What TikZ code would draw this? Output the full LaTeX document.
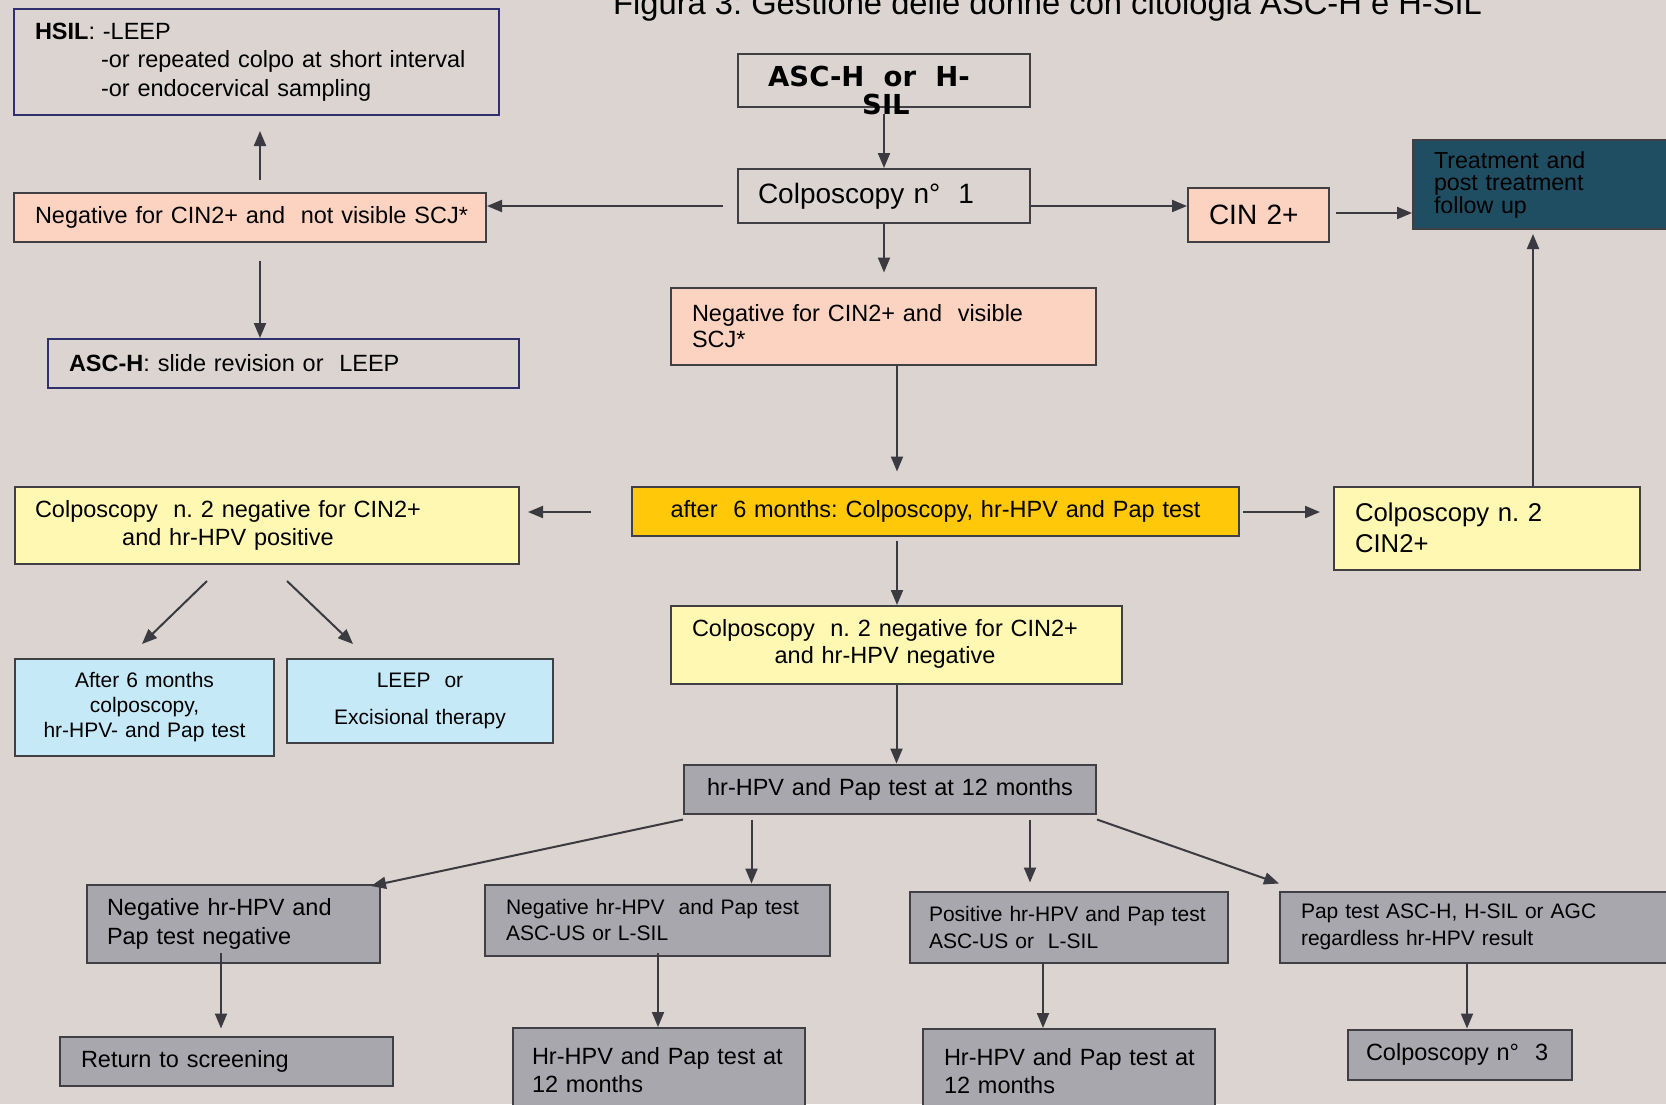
\documentclass[tikz,border=0pt]{standalone}
\usepackage{fontspec}
\setmainfont{Liberation Sans}
\newfontfamily\djv{DejaVu Sans}
\usetikzlibrary{arrows.meta}
\definecolor{bgc}{RGB}{219,212,209}
\definecolor{salm}{RGB}{252,211,192}
\definecolor{lyel}{RGB}{255,248,178}
\definecolor{goldc}{RGB}{255,201,10}
\definecolor{lblu}{RGB}{198,233,248}
\definecolor{gbox}{RGB}{168,167,174}
\definecolor{tealc}{RGB}{31,78,98}
\definecolor{bordc}{RGB}{64,64,68}
\definecolor{navy}{RGB}{48,48,110}
\definecolor{arrc}{RGB}{58,58,64}
\newcommand\fm{\fontsize{23.5}{28}\selectfont}
\newcommand\fs{\fontsize{21}{26}\selectfont}
\newcommand\fl{\fontsize{28}{32}\selectfont}
\newcommand\ftreat{\fontsize{23.2}{22.5}\selectfont}
\newcommand\mln[1]{\mbox{#1}}
\begin{document}
\frenchspacing
\begin{tikzpicture}[x=1pt,y=-1pt,
  bx/.style={draw=bordc, line width=2pt, rectangle, inner ysep=0pt, align=left, text=black},
  arr/.style={draw=arrc, line width=2pt, -{Triangle[length=15pt,width=12pt]}}]
\fill[bgc] (0,0) rectangle (1666,1104);
\useasboundingbox (0,0) rectangle (1666,1104);

\node[anchor=base west, inner sep=0pt, font=\fontsize{32.7}{38}\selectfont] (title) at (613,14) {Figura 3: Gestione delle donne con citologia ASC-H e H-SIL};

% left top
\node[bx, draw=navy, minimum width=485pt, minimum height=106pt, text width=443pt, inner xsep=21pt, font=\fontsize{23.5}{28.5}\selectfont] (hsil) at (256.5,62)
  {\mln{\textbf{HSIL}: -LEEP}\\\mln{\hspace*{66pt}-or repeated colpo at short interval}\\\mln{\hspace*{66pt}-or endocervical sampling}};
\node[bx, fill=salm, minimum width=472pt, minimum height=49pt, text width=430pt, inner xsep=21pt, font=\fm] (neg1) at (250,217.5)
  {\mln{Negative for CIN2+ and\ \ not visible SCJ*}};
\node[bx, draw=navy, minimum width=471pt, minimum height=49pt, text width=429pt, inner xsep=21pt, font=\fm] (asch) at (283.5,363.5)
  {\mln{\textbf{ASC-H}: slide revision or\ \ LEEP}};

% centre top
\node[bx, minimum width=292pt, minimum height=53pt] (start) at (884,80.5) {};
\node[anchor=base west, inner sep=0pt, font=\djv\bfseries\fontsize{27.5}{28}\selectfont] (startA) at (768,86) {ASC-H\ \ or\ \ H-};
\node[anchor=base west, inner sep=0pt, font=\djv\bfseries\fontsize{27.5}{28}\selectfont] (startB) at (862,114) {SIL};
\node[bx, minimum width=292pt, minimum height=54pt, text width=252pt, inner xsep=20pt, font=\fl] (colpo1) at (884,196)
  {\mln{Colposcopy n°\hspace{18pt}1}};
\node[bx, fill=salm, minimum width=141pt, minimum height=54pt, text width=99pt, inner xsep=21pt, font=\fl] (cin) at (1258.5,215)
  {\mln{CIN 2+}};
\node[bx, fill=tealc, minimum width=277pt, minimum height=89pt, text width=235pt, inner xsep=21pt, font=\ftreat] (treat) at (1551.5,184.5)
  {\lineskiplimit=-100pt\relax \mln{Treatment and}\\\mln{post treatment}\\\mln{follow up}};
\node[bx, fill=salm, minimum width=425pt, minimum height=77pt, text width=383pt, inner xsep=21pt, font=\fontsize{23.5}{26}\selectfont] (negvis) at (883.5,326)
  {\mln{Negative for CIN2+ and\ \ visible}\\\mln{SCJ*}};

% middle row
\node[bx, fill=goldc, minimum width=607pt, minimum height=49pt, text width=565pt, inner xsep=21pt, align=center, font=\fm] (gold) at (935.5,511)
  {\mln{after\ \ 6 months: Colposcopy, hr-HPV and Pap test}};
\node[bx, fill=lyel, minimum width=504pt, minimum height=77pt, text width=464pt, inner xsep=20pt, font=\fm] (pos) at (267,525.5)
  {\begin{tabular}{@{}c@{}}Colposcopy\ \ n. 2 negative for CIN2+\\and hr-HPV positive\end{tabular}};
\node[bx, fill=lyel, minimum width=306pt, minimum height=83pt, text width=264pt, inner xsep=21pt, font=\fontsize{25.7}{31}\selectfont] (cin2b) at (1487,528)
  {\mln{Colposcopy n. 2}\\\mln{CIN2+}};
\node[bx, fill=lblu, minimum width=259pt, minimum height=97pt, text width=239pt, inner xsep=10pt, align=center, font=\fontsize{21}{25}\selectfont] (blue1) at (144.5,707.5)
  {\mln{After 6 months}\\\mln{colposcopy,}\\\mln{hr-HPV- and Pap test}};
\node[bx, fill=lblu, minimum width=266pt, minimum height=84pt, text width=246pt, inner xsep=10pt, align=center, font=\fontsize{21}{25}\selectfont] (blue2) at (420,701)
  {\mln{LEEP\ \ or}\\[12pt]\mln{Excisional therapy}};
\node[bx, fill=lyel, minimum width=451pt, minimum height=78pt, text width=409pt, inner xsep=21pt, font=\fontsize{23.5}{27}\selectfont] (neg2) at (896.5,645)
  {\begin{tabular}{@{}c@{}}Colposcopy\ \ n. 2 negative for CIN2+\\and hr-HPV negative\end{tabular}};
\node[bx, fill=gbox, minimum width=412pt, minimum height=49pt, text width=372pt, inner xsep=20pt, align=center, font=\fm] (hr12) at (890,789)
  {\mln{hr-HPV and Pap test at 12 months}};

% bottom rows
\node[bx, fill=gbox, minimum width=293pt, minimum height=78pt, text width=253pt, inner xsep=20pt, font=\fontsize{23.5}{29}\selectfont] (negneg) at (233.5,924)
  {\mln{Negative hr-HPV and}\\\mln{Pap test negative}};
\node[bx, fill=gbox, minimum width=345pt, minimum height=71pt, text width=303pt, inner xsep=21pt, font=\fs] (negasc) at (657.5,920)
  {\mln{Negative hr-HPV\ \ and Pap test}\\\mln{ASC-US or L-SIL}};
\node[bx, fill=gbox, minimum width=318pt, minimum height=71pt, text width=280pt, inner xsep=19pt, font=\fontsize{21}{27}\selectfont] (posasc) at (1069,927)
  {\mln{Positive hr-HPV and Pap test}\\\mln{ASC-US or\ \ L-SIL}};
\node[bx, fill=gbox, minimum width=410pt, minimum height=71pt, text width=368pt, inner xsep=21pt, font=\fontsize{21}{27}\selectfont] (papasch) at (1485,927)
  {\mln{Pap test ASC-H, H-SIL or AGC}\\\mln{regardless hr-HPV result}};
\node[bx, fill=gbox, minimum width=333pt, minimum height=49pt, text width=291pt, inner xsep=21pt, font=\fm] (ret) at (226.5,1061)
  {\mln{Return to screening}};
\node[bx, fill=gbox, minimum width=292pt, minimum height=84pt, text width=254pt, inner xsep=19pt, font=\fm] (hrA) at (659,1070)
  {\mln{Hr-HPV and Pap test at}\\\mln{12 months}};
\node[bx, fill=gbox, minimum width=292pt, minimum height=84pt, text width=250pt, inner xsep=21pt, font=\fm] (hrB) at (1069,1071)
  {\mln{Hr-HPV and Pap test at}\\\mln{12 months}};
\node[bx, fill=gbox, minimum width=224pt, minimum height=50pt, text width=188pt, inner xsep=18pt, font=\fm] (colpo3) at (1460,1054.5)
  {\mln{Colposcopy n°\hspace{16pt}3}};

% connectors
\draw[arr, shorten <=6pt] (start.south) -- (colpo1.north);
\draw[arr] ([shift={(-14,10)}]colpo1.west) coordinate (a1) -- (a1 -| neg1.east);
\draw[arr] ([shift={(0,10)}]colpo1.east) coordinate (a2) -- (a2 -| cin.west);
\draw[arr] ([shift={(6,-2)}]cin.east) coordinate (a3) -- (a3 -| treat.west);
\draw[arr, shorten >=4pt] ([xshift=46pt]cin2b.north) coordinate (a4) -- (a4 |- treat.south);
\draw[arr, shorten >=15pt] ([shift={(10,-12)}]neg1.north) coordinate (a5) -- (a5 |- hsil.south);
\draw[arr] ([shift={(10,18)}]neg1.south) coordinate (a6) -- (a6 |- asch.north);
\draw[arr, shorten >=14pt] (colpo1.south) -- (colpo1.south |- negvis.north);
\draw[arr, shorten >=14pt] ([xshift=13.5pt]negvis.south) coordinate (a7) -- (a7 |- gold.north);
\draw[arr, shorten >=8pt] ([shift={(-40,1)}]gold.west) coordinate (a8) -- (a8 -| pos.east);
\draw[arr, shorten >=13pt] ([shift={(3,1)}]gold.east) coordinate (a9) -- (a9 -| cin2b.west);
\draw[arr] ([shift={(-38.5,4)}]gold.south) coordinate (a10) -- (a10 |- neg2.north);
\draw[arr] (neg2.south) -- (neg2.south |- hr12.north);
\draw[arr] ([shift={(-60,16)}]pos.south) -- ([shift={(-2.5,-14)}]blue1.north);
\draw[arr] ([shift={(20,16)}]pos.south) -- ([shift={(-67,-14)}]blue2.north);
\draw[arr] ([shift={(0,5)}]hr12.south west) -- ([shift={(-10,2)}]negneg.north east);
\draw[arr] ([shift={(-138.5,5)}]hr12.south) coordinate (b1) -- (b1 |- negasc.north);
\draw[arr, shorten >=8pt] ([shift={(140,5)}]hr12.south) coordinate (b2) -- (b2 |- posasc.north);
\draw[arr] ([shift={(0,5)}]hr12.south east) -- ([shift={(0,-7)}]papasch.north west);
\draw[arr, shorten >=7pt] ([shift={(-12.5,-11)}]negneg.south) coordinate (b3) -- (b3 |- ret.north);
\draw[arr] ([shift={(0.5,-4)}]negasc.south) coordinate (b4) -- (b4 |- hrA.north);
\draw[arr] ([xshift=-26pt]posasc.south) coordinate (b5) -- (b5 |- hrB.north);
\draw[arr] ([xshift=-18pt]papasch.south) coordinate (b6) -- (b6 |- colpo3.north);
\end{tikzpicture}
\end{document}
